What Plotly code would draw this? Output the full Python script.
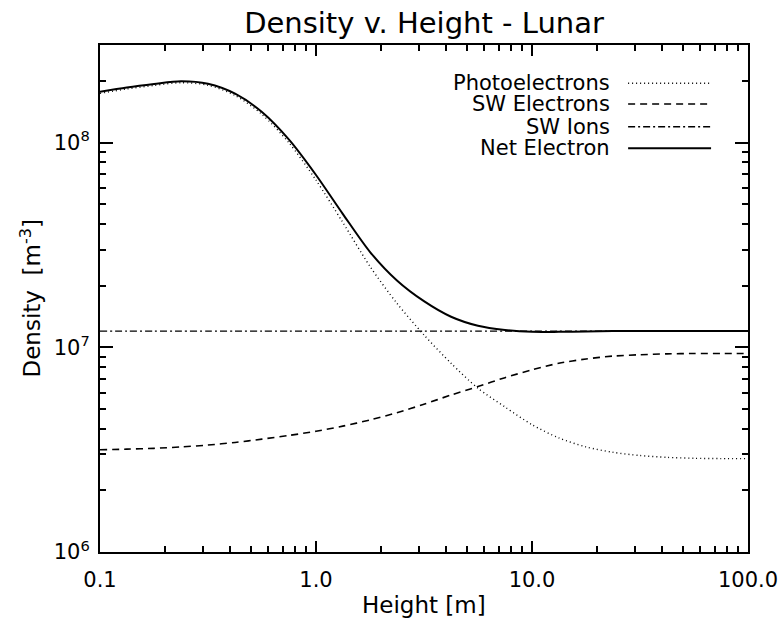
import plotly.graph_objects as go

# Height above the lunar surface [m]
height = [0.1, 0.133, 0.178, 0.237, 0.316, 0.422, 0.562, 0.75, 1.0, 1.33, 1.78,
          2.37, 3.16, 4.22, 5.62, 7.5, 10, 13.3, 17.8, 23.7, 31.6, 42.2, 56.2,
          75, 100]

# Densities [m^-3]
photoelectrons = [1.741e8, 1.829e8, 1.903e8, 1.963e8, 1.908e8, 1.701e8, 1.375e8,
                  9.97e7, 6.56e7, 4.08e7, 2.48e7, 1.64e7, 1.15e7, 8.35e6, 6.31e6,
                  5.11e6, 4.19e6, 3.61e6, 3.26e6, 3.07e6, 2.96e6, 2.9e6, 2.87e6,
                  2.86e6, 2.86e6]
sw_electrons = [3.16e6, 3.18e6, 3.21e6, 3.26e6, 3.33e6, 3.43e6, 3.56e6, 3.71e6,
                3.89e6, 4.12e6, 4.42e6, 4.79e6, 5.27e6, 5.85e6, 6.43e6, 7.11e6,
                7.76e6, 8.36e6, 8.77e6, 9.06e6, 9.2e6, 9.29e6, 9.33e6, 9.33e6,
                9.33e6]
sw_ions = [1.2e7] * len(height)
net_electron = [1.773e8, 1.861e8, 1.935e8, 1.995e8, 1.94e8, 1.735e8, 1.411e8,
                1.034e8, 6.95e7, 4.49e7, 2.92e7, 2.12e7, 1.68e7, 1.41e7, 1.274e7,
                1.215e7, 1.19e7, 1.19e7, 1.195e7, 1.2e7, 1.2e7, 1.2e7, 1.2e7,
                1.2e7, 1.2e7]

series_names = ["Photoelectrons", "SW Electrons", "SW Ions", "Net Electron"]
series_values = [photoelectrons, sw_electrons, sw_ions, net_electron]
series_dash = ["1px,3px", "7px,5px", "7px,3px,2px,3px", "solid"]
series_width = [1.4, 1.6, 1.4, 2.0]

x_tickvals = [0.1, 1, 10, 100]
x_ticktext = ["0.1", "1.0", "10.0", "100.0"]
y_tickvals = [1e6, 1e7, 1e8]
y_ticktext = ["10<sup>6</sup>", "10<sup>7</sup>", "10<sup>8</sup>"]

FONT = "DejaVu Sans"

fig = go.Figure()
for name, vals, dash, w in zip(series_names, series_values, series_dash, series_width):
    fig.add_trace(go.Scatter(
        x=height, y=vals, mode="lines", name=name,
        line=dict(color="black", width=w, dash=dash, shape="spline", smoothing=0.8),
        showlegend=False,
    ))

# Legend drawn IDL-style: right-aligned labels followed by line samples
leg_y = [0.9245, 0.8836, 0.8389, 0.7963]
for name, dash, w, ly in zip(series_names, series_dash, series_width, leg_y):
    fig.add_annotation(x=0.790, y=ly, xref="paper", yref="paper", text=name,
                       showarrow=False, xanchor="right", yanchor="middle",
                       font=dict(family=FONT, size=21, color="black"))
    fig.add_shape(type="line", xref="paper", yref="paper",
                  x0=0.815, x1=0.943, y0=ly, y1=ly,
                  line=dict(color="black", width=w, dash=dash))

axis_common = dict(
    type="log", showline=True, linecolor="black", linewidth=2, mirror="allticks",
    ticks="inside", tickcolor="black", tickwidth=1.5, showgrid=False, zeroline=False,
    automargin=False,
    tickfont=dict(family=FONT, size=21, color="black"),
)

fig.update_xaxes(
    **axis_common, range=[-1, 2], tickvals=x_tickvals, ticktext=x_ticktext,
    ticklen=11, ticklabelstandoff=8,
    minor=dict(ticks="inside", ticklen=6, tickcolor="black", tickwidth=1.5,
               dtick="D1", showgrid=False),
)
fig.update_yaxes(
    **axis_common, range=[6, 8.477], tickvals=y_tickvals, ticktext=y_ticktext,
    ticklen=13, ticklabelstandoff=4,
    minor=dict(ticks="inside", ticklen=6, tickcolor="black", tickwidth=1.5,
               dtick="D1", showgrid=False),
)

fig.add_annotation(x=0.5, y=-0.104, xref="paper", yref="paper", text="Height [m]",
                   showarrow=False, xanchor="center", yanchor="middle",
                   font=dict(family=FONT, size=23, color="black"))
fig.add_annotation(x=-0.108, y=0.5, xref="paper", yref="paper",
                   text="Density  [m<sup>-3</sup>]", textangle=-90,
                   showarrow=False, xanchor="center", yanchor="middle",
                   font=dict(family=FONT, size=23, color="black"))

fig.update_layout(
    width=782, height=625,
    margin=dict(l=100, r=34, t=45, b=73),
    paper_bgcolor="white", plot_bgcolor="white",
    title=dict(text="Density v. Height - Lunar", x=0.5, xref="paper",
               y=0.963, yref="container", yanchor="middle", xanchor="center",
               font=dict(family=FONT, size=29, color="black")),
)

fig.write_html("out.html")
